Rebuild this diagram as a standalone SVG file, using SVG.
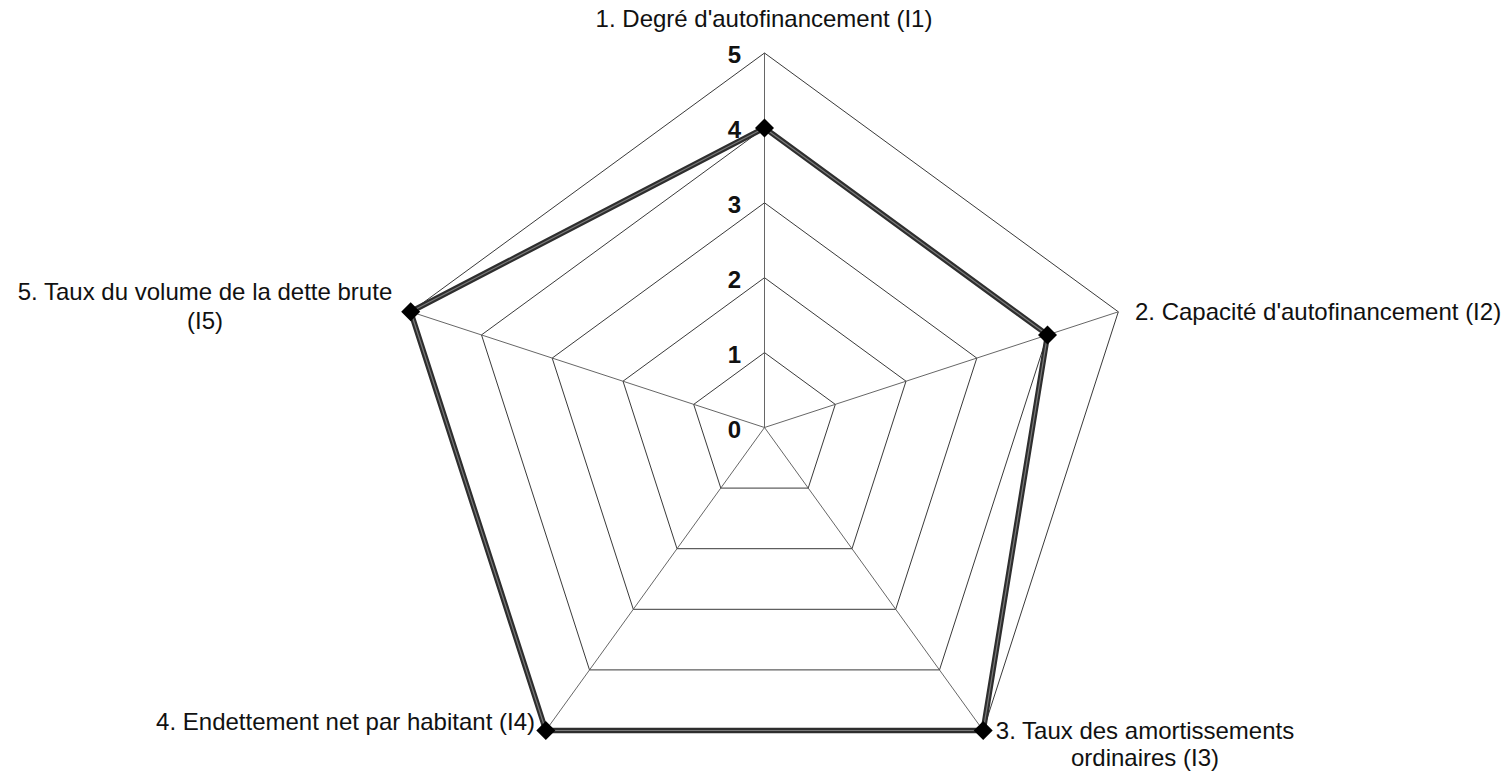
<svg xmlns="http://www.w3.org/2000/svg" width="1512" height="772" viewBox="0 0 1512 772">
<style>
.grid{fill:none;stroke:#222;stroke-width:0.9}
.axis{fill:none;stroke:#555;stroke-width:0.9}
.lbl{font-family:"Liberation Sans",Arial,sans-serif;font-size:24px;fill:#111}
.num{font-family:"Liberation Sans",Arial,sans-serif;font-size:24px;font-weight:bold;fill:#111;text-anchor:end}
.data-o{fill:none;stroke:#2e2e2e;stroke-width:5.5;stroke-linejoin:round}
.data-i{fill:none;stroke:#7a7a7a;stroke-width:1.2;stroke-linejoin:round}
.mk{fill:#000}
</style>
<defs>
<path id="dia" d="M0,-9.5 L9.5,0 L0,9.5 L-9.5,0 Z"/>
</defs>
<rect width="1512" height="772" fill="#fff"/>
<g id="grid">
<polygon class="grid" points="764.5,352.6 835.3,404.4 808.2,488.1 720.8,488.1 693.7,404.4"/>
<polygon class="grid" points="764.5,277.7 906.0,381.2 852.0,548.7 677.0,548.7 623.0,381.2"/>
<polygon class="grid" points="764.5,202.8 976.8,358.1 895.7,609.3 633.3,609.3 552.2,358.1"/>
<polygon class="grid" points="764.5,127.9 1047.5,334.9 939.5,669.9 589.5,669.9 481.5,334.9"/>
<polygon class="grid" points="764.5,53.0 1118.3,311.8 983.2,730.5 545.8,730.5 410.7,311.8"/>
</g>
<g id="connectors">
<line class="axis" x1="764.5" y1="427.5" x2="764.5" y2="53.0"/>
<line class="axis" x1="764.5" y1="427.5" x2="1118.3" y2="311.8"/>
<line class="axis" x1="764.5" y1="427.5" x2="983.2" y2="730.5"/>
<line class="axis" x1="764.5" y1="427.5" x2="545.8" y2="730.5"/>
<line class="axis" x1="764.5" y1="427.5" x2="410.7" y2="311.8"/>
<polygon class="data-o" points="764.5,127.9 1047.5,334.9 983.2,730.5 545.8,730.5 410.7,311.8"/>
<polygon class="data-i" points="764.5,127.9 1047.5,334.9 983.2,730.5 545.8,730.5 410.7,311.8"/>
</g>
<g id="scale">
<text class="num" x="741" y="437.5">0</text>
<text class="num" x="741" y="362.6">1</text>
<text class="num" x="741" y="287.7">2</text>
<text class="num" x="741" y="212.8">3</text>
<text class="num" x="741" y="137.9">4</text>
<text class="num" x="741" y="63">5</text>
</g>
<g id="node-i1">
<use href="#dia" class="mk" x="764.5" y="127.9"/>
<text class="lbl" x="764" y="27" text-anchor="middle">1. Degré d'autofinancement (I1)</text>
</g>
<g id="node-i2">
<use href="#dia" class="mk" x="1047.5" y="334.9"/>
<text class="lbl" x="1135" y="320">2. Capacité d'autofinancement (I2)</text>
</g>
<g id="node-i3">
<use href="#dia" class="mk" x="983.2" y="730.5"/>
<text class="lbl" x="1145" y="739" text-anchor="middle">3. Taux des amortissements</text>
<text class="lbl" x="1145" y="766" text-anchor="middle">ordinaires (I3)</text>
</g>
<g id="node-i4">
<use href="#dia" class="mk" x="545.8" y="730.5"/>
<text class="lbl" x="535" y="730" text-anchor="end">4. Endettement net par habitant (I4)</text>
</g>
<g id="node-i5">
<use href="#dia" class="mk" x="410.7" y="311.8"/>
<text class="lbl" x="205" y="300" text-anchor="middle">5. Taux du volume de la dette brute</text>
<text class="lbl" x="205" y="329" text-anchor="middle">(I5)</text>
</g>
</svg>
